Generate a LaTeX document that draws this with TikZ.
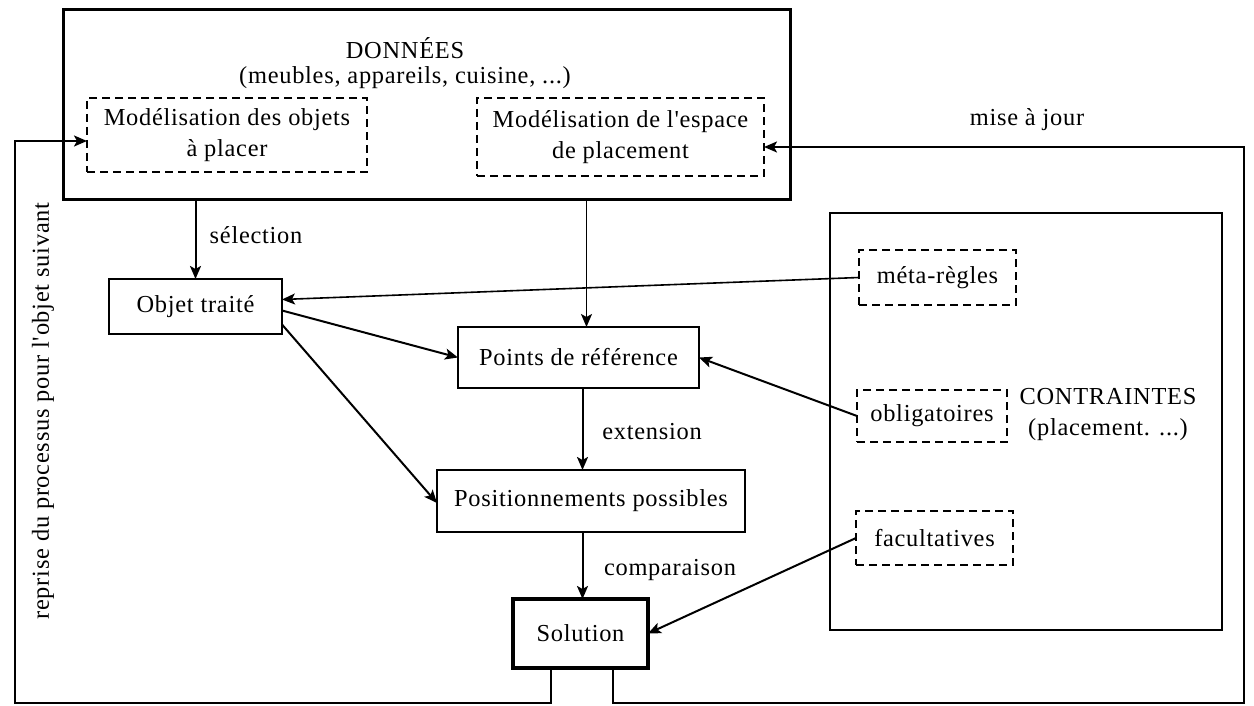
\documentclass[tikz,border=0pt]{standalone}
\usepackage{fontspec}
\setmainfont{Liberation Serif}[LetterSpace=3,Ligatures=TeXOff]
\usetikzlibrary{arrows.meta,calc}
\begin{document}
\begin{tikzpicture}[x=0.5pt,y=-0.5pt,
  every node/.style={font=\fontsize{12.2}{15.5}\selectfont},
  box/.style={draw,line width=1.2pt,inner sep=0pt,outer sep=0pt,align=center},
  dbox/.style={draw,line width=1pt,dash pattern=on 4pt off 2.5pt,inner sep=0pt,outer sep=0pt,align=center},
  txt/.style={inner sep=0pt,align=center},
  arr/.style={line width=1pt,-{Stealth[length=6.5pt,width=5.5pt,inset=1.5pt]}},
  ln/.style={line width=1pt}]
\useasboundingbox (0,0) rectangle (1254,706);
% main boxes
\node[box,line width=1.5pt,minimum width=363.5pt,minimum height=95pt] (donnees) at (426.5,105) {};
\node[txt] (dtitle) at (405,48) {DONNÉES};
\node[txt] (dsub) at (405,78) {(meubles, appareils, cuisine, ...)};
\node[dbox,minimum width=140pt,minimum height=37pt] (mod1) at (227,135) {Modélisation des objets\\à placer};
\node[dbox,minimum width=143.5pt,minimum height=39pt] (mod2) at (620.5,137) {Modélisation de l'espace\\de placement};

\node[box,minimum width=86.5pt,minimum height=27.5pt] (objet) at (195.5,306.5) {Objet traité};
\node[box,minimum width=120.5pt,minimum height=30.5pt] (points) at (578.5,357.5) {Points de référence};
\node[box,minimum width=154pt,minimum height=31pt] (posit) at (591,501) {Positionnements possibles};
\node[box,line width=1.7pt,minimum width=67.5pt,minimum height=34.5pt] (solution) at (580.5,633.5) {Solution};

\node[box,line width=1.4pt,minimum width=196pt,minimum height=208.5pt] (contr) at (1026,421.5) {};
\node[dbox,minimum width=78.5pt,minimum height=27.5pt] (meta) at (937.5,277.5) {méta-règles};
\node[dbox,minimum width=75pt,minimum height=26pt] (oblig) at (932,416) {obligatoires};
\node[dbox,minimum width=78.5pt,minimum height=27pt] (facult) at (934.5,538) {facultatives};
\node[txt] (ctitle) at (1108,397) {CONTRAINTES};
\node[txt] (csub) at (1108,430) {(placement. ...)};

% labels
\node[txt] (lmaj) at (1027,120) {mise à jour};
\node[txt] (lsel) at (256,235) {sélection};
\node[txt] (lext) at (652,432) {extension};
\node[txt] (lcomp) at (670,570) {comparaison};
\node[txt,rotate=90] (lrep) at (43,411) {reprise du processus pour l'objet suivant};

% connectors
\draw[arr] (donnees.south -| objet.north) -- (objet.north);
\draw[arr,line width=0.8pt] ([xshift=4pt]donnees.south -| points.north) -- ([xshift=4pt]points.north);
\draw[arr,line width=0.8pt] (meta.west) -- ([yshift=3.5pt]objet.east);
\draw[arr] ([yshift=-2pt]objet.east) -- (points.west);
\draw[arr] ([yshift=-9pt]objet.east) -- ([yshift=-1pt]posit.west);
\draw[arr] (oblig.west) -- (points.east);
\draw[arr] ([xshift=2pt]points.south) -- ([xshift=2pt]points.south |- posit.north);
\draw[arr] ([xshift=1pt]solution.north |- posit.south) -- ([xshift=1pt]solution.north);
\draw[arr] (facult.west) -- (solution.east);

\coordinate (bl) at (15,703);
\coordinate (br) at (1244,703);
\draw[arr] ([xshift=-14.75pt]solution.south) |- (bl) |- ([yshift=-3pt]mod1.west);
\draw[arr] ([xshift=16.25pt]solution.south) |- (br) |- ([yshift=-5pt]mod2.east);
\end{tikzpicture}
\end{document}
